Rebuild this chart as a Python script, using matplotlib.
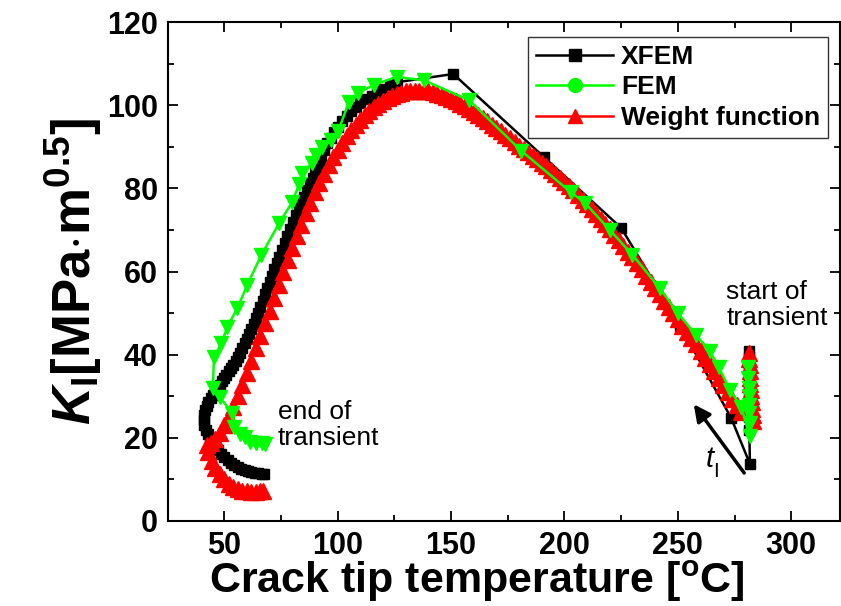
import matplotlib
matplotlib.use("Agg")
import matplotlib.pyplot as plt
from matplotlib.lines import Line2D
from matplotlib.ticker import MultipleLocator

plt.rcParams['font.family'] = ['Liberation Sans', 'DejaVu Sans']
plt.rcParams['mathtext.fontset'] = 'custom'
plt.rcParams['mathtext.rm'] = 'Liberation Sans:bold'
plt.rcParams['mathtext.it'] = 'Liberation Sans:italic:bold'
plt.rcParams['mathtext.bf'] = 'Liberation Sans:bold'

# ---- data (time order) ----
xfem_T = [281.5, 281.5, 281.5, 281.5, 281.5, 281.5, 281.5, 281.5, 281.5, 281.5, 281.5, 281.5,
          281.8, 273.5, 251, 225, 191, 151,
          126, 123, 120, 117.5, 115, 112.5, 110, 108, 106, 104, 102, 100, 98.5, 97, 95.5, 94,
          92.8, 91.5, 90.2, 89, 87.8, 86.5, 85.2, 84, 82.8, 81.5, 80.2, 79, 77.8, 76.6, 75.5,
          74.3, 73.2, 72, 71, 70, 69, 68, 67, 66, 65, 64, 63, 62, 61, 60, 59, 58, 57, 56,
          55, 54, 53, 52, 51, 50, 49, 48, 47, 46, 45, 44, 43, 42.3, 41.7, 41.3, 41, 41.2,
          41.8, 42.7, 43.7, 44.8, 46, 47.3, 48.6, 50, 51.5, 53, 54.5, 56, 57.5, 59, 60.5,
          62, 63.5, 65, 66.5, 67.5]
xfem_K = [41, 39.5, 38, 36.5, 35, 33.5, 32, 30.5, 29, 27, 25, 22,
          13.7, 24.8, 47, 70.5, 87.5, 107.5,
          105.5, 104.8, 104, 103.2, 102.3, 101.5, 100.5, 99.5, 98.5, 97.5, 96.2, 94.8, 93.5, 92.2, 90.8, 89.2,
          86.8, 85.4, 84, 82.6, 81.2, 79.6, 78, 76.5, 75, 73.5, 71.8, 70.2, 68.5, 66.8, 65.2,
          63.5, 62, 60.5, 59, 57.5, 56, 54.5, 53, 51.5, 50, 48.7, 47.4, 46.2, 45, 43.8, 42.7, 41.6, 40.5, 39.5,
          38.5, 37.6, 36.8, 36, 35.2, 34.4, 33.6, 32.8, 32, 31.2, 30.4, 29.6, 28.7, 27.7, 26.6, 25.5, 24.3, 23.1,
          22, 21, 20, 19, 18, 17, 16.1, 15.3, 14.6, 14, 13.4, 12.9, 12.5, 12.2, 12,
          11.8, 11.6, 11.5, 11.4, 11.4]

fem_T = [281, 281, 281.2, 281.3, 281.5, 281.5, 281.6, 281.6,
         278, 273, 268, 264, 258, 250, 242, 230, 220, 209, 203, 181, 158, 138,
         126, 116, 109, 105, 100.3, 97.2, 93.3, 90.6, 88.5, 84.5, 83, 80, 74.3, 66.4,
         60.2, 55.8, 51.4, 48.8, 45.5, 45, 48, 53.6, 54.5, 57, 59, 61.5, 64, 66.5, 68]
fem_K = [37, 34.5, 32, 30, 28, 26, 23.5, 20.5,
         27.4, 31.5, 37, 41, 44.7, 50, 56, 64, 70, 76.5, 79, 89, 101.2, 106,
         106.8, 104.9, 102.9, 100.8, 93.8, 91.6, 90, 88, 86, 83.7, 81, 76.7, 71.7, 64,
         56.8, 51.2, 46.7, 42.8, 39.4, 32, 29.8, 26, 22.6, 21, 20.2, 19, 18.8, 18.8, 18.6]

wf_T = [281.5, 281.5, 281.6, 281.7, 281.8, 282, 282.2, 282.4, 282.6, 282.8, 283, 283,
        278, 276, 274, 272, 270, 268, 266, 264, 262, 260, 258, 256, 254, 252, 250, 248,
        246, 244, 242, 240, 238, 236, 234, 232, 230, 228, 226, 224, 222, 220, 218, 216,
        214, 212, 210, 208, 206, 204, 202, 200, 198, 196, 194, 192, 190, 188, 186, 184,
        182, 180, 178, 176, 174, 172, 170, 168, 166, 164, 162, 160, 158, 156, 154, 152,
        150, 148, 146, 144, 142, 140, 138, 136, 134, 132, 130, 128, 126, 124, 122, 120,
        118, 116, 114, 112, 110, 108, 106, 104, 102, 100, 98, 96, 94, 92, 90, 88, 86, 84,
        82, 80, 78, 76, 74, 72, 70, 68, 66, 64, 62, 60, 58, 56, 54, 52, 50, 48, 46, 44,
        42.5, 43, 44.5, 46, 48, 50, 52, 54, 56, 58, 60, 62, 64, 66, 67]
wf_K = [40.5, 39, 37.5, 36, 34.5, 33, 31.5, 30, 28.5, 27, 25.5, 24,
        26.2, 27.8, 29.4, 31.0, 32.7, 34.3, 36.0, 37.7, 39.3, 41.0, 42.5, 44.0, 45.5, 47.0, 48.5, 50.0,
        51.5, 53.0, 54.5, 56.0, 57.5, 59.0, 60.5, 62.0, 63.5, 64.8, 66.2, 67.5, 68.8, 70.2, 71.5, 72.7,
        73.8, 75.0, 76.2, 77.3, 78.5, 79.5, 80.5, 81.5, 82.5, 83.5, 84.5, 85.3, 86.2, 87.0, 87.8, 88.7,
        89.5, 90.3, 91.2, 92.0, 92.8, 93.7, 94.5, 95.3, 96.2, 97.0, 97.7, 98.3, 99.0, 99.7, 100.3, 101.0,
        101.5, 102.0, 102.5, 102.8, 103.1, 103.3, 103.4, 103.5, 103.5, 103.4, 103.3, 103.0, 102.7, 102.3, 101.7, 101.0,
        100.3, 99.5, 98.6, 97.6, 96.5, 95.3, 94.0, 92.5, 91.0, 89.3, 87.5, 85.5, 83.5, 81.3, 79.0, 76.5, 74.0, 71.3,
        68.5, 65.7, 62.8, 59.8, 56.8, 53.7, 50.6, 47.5, 44.5, 41.5, 38.5, 35.6, 32.8, 30.0, 27.4, 25.0, 23.0, 21.2, 19.8, 18.8,
        18.2, 16.5, 14.5, 12.8, 11.3, 10.0, 9.0, 8.2, 7.6, 7.3, 7.1, 7.0, 7.0, 7.1, 7.3]

labels = ['XFEM', 'FEM', 'Weight function']

fig = plt.figure(figsize=(8.41, 6.06), dpi=100)
ax = fig.add_axes([167.5/841, 85/606, (840-167.5)/841, (521-22)/606])

ax.plot(xfem_T, xfem_K, color='black', lw=1.8, marker='s', ms=7.5, mec='black', zorder=3)
ax.plot(wf_T, wf_K, color='red', lw=1.8, marker='^', ms=12, mec='red', zorder=4)
ax.plot(fem_T, fem_K, color='#00ff00', lw=1.8, marker='v', ms=9.5, mec='#00ff00', zorder=5)

ax.set_xlim(25, 321.5)
ax.set_ylim(0, 120)
ax.xaxis.set_major_locator(MultipleLocator(50))
ax.xaxis.set_minor_locator(MultipleLocator(25))
ax.yaxis.set_major_locator(MultipleLocator(20))
ax.yaxis.set_minor_locator(MultipleLocator(10))
ax.tick_params(which='both', direction='in', top=True, right=True, width=1.3)
ax.tick_params(which='major', length=7, labelsize=22, pad=7)
ax.tick_params(which='minor', length=4)
for lab in ax.get_xticklabels() + ax.get_yticklabels():
    lab.set_fontweight('bold')
for s in ax.spines.values():
    s.set_linewidth(1.5)

ax.set_xlabel(r'Crack tip temperature [$^{\mathrm{o}}$C]', fontsize=31, fontweight='bold', labelpad=0)
ax.xaxis.set_label_coords(0.46, -0.075, transform=ax.transAxes)
ax.xaxis.label.set_va('top')
ax.set_ylabel(r'$\mathit{K}_{\mathrm{I}}$[MPa$\cdot$m$^{\mathrm{0.5}}$]', fontsize=38, fontweight='bold', labelpad=2)

handles = [Line2D([], [], color='black', lw=1.8, marker='s', ms=9),
           Line2D([], [], color='#00ff00', lw=1.8, marker='o', ms=10),
           Line2D([], [], color='red', lw=1.8, marker='^', ms=10)]
leg = ax.legend(handles, labels, loc='upper right', bbox_to_anchor=(0.982, 0.97), borderaxespad=0,
                prop={'weight': 'bold', 'size': 19}, frameon=True, fancybox=False,
                edgecolor='black', handlelength=2.9, borderpad=0.3, labelspacing=0.25,
                handletextpad=0.3)
leg.get_frame().set_linewidth(1.0)

ax.text(271.3, 58, 'start of\ntransient', fontsize=19, va='top', ha='left', linespacing=1.1)
ax.text(73.5, 29, 'end of\ntransient', fontsize=19, va='top', ha='left', linespacing=1.1)
ax.annotate('', xy=(256.3, 28.6), xytext=(280, 11),
            arrowprops=dict(arrowstyle='-|>', lw=2.5, color='black', mutation_scale=25))
ax.text(264.0, 15.0, 't', fontsize=21, fontstyle='italic', ha='center', va='center')
ax.text(267.0, 11.8, 'I', fontsize=15, ha='center', va='center')

fig.savefig('out.png', dpi=100)
